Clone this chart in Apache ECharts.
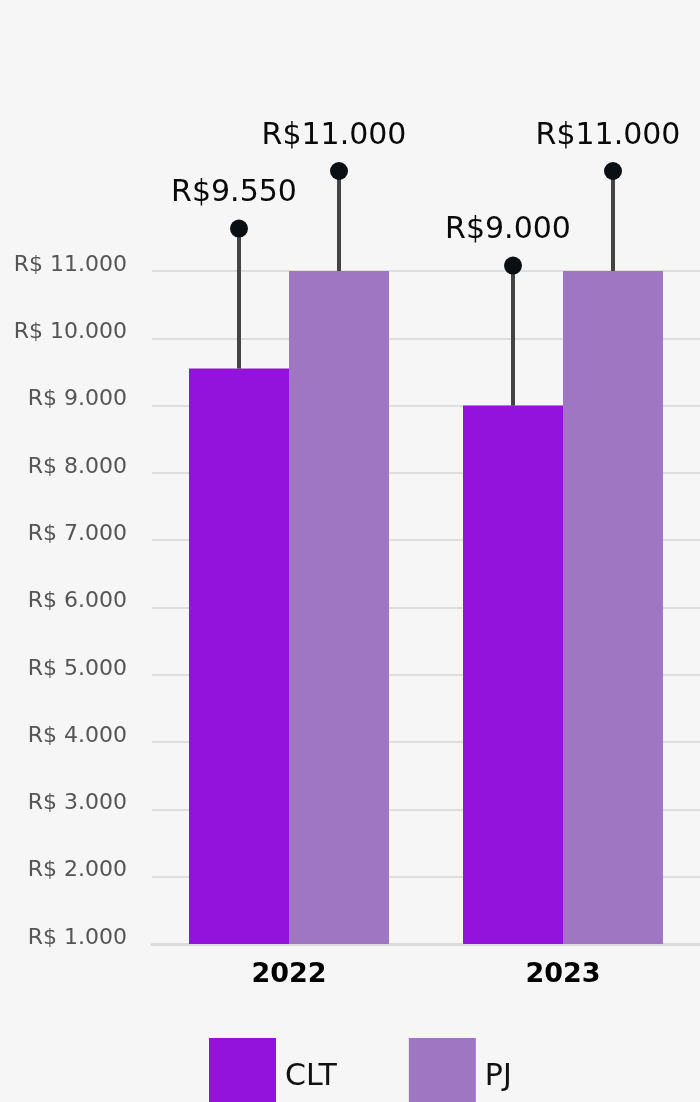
<!DOCTYPE html>
<html>
<head>
<meta charset="utf-8">
<style>
  html, body { margin: 0; padding: 0; background: #f6f6f6; }
  #chart { width: 700px; height: 1102px; }
</style>
<script src="https://cdn.jsdelivr.net/npm/echarts@6/dist/echarts.min.js"></script>
</head>
<body>
<div id="chart"></div>
<script>
// Salary comparison by contract type (CLT vs PJ)
const years = ['2022', '2023'];
const seriesNames = ['CLT', 'PJ'];
const cltValues = [9550, 9000];
const pjValues = [11000, 11000];
const yTicks = { min: 1000, max: 11000, step: 1000 };

const COLORS = { CLT: '#9413dc', PJ: '#9e76c2' };
const FONT = '"DejaVu Sans", sans-serif';
const BAR_W = 100;
// pin stem length above each bar (px)
const PIN_LEN = { CLT: 140, PJ: 100 };

function brl(v, space) {
  const s = v.toLocaleString('pt-BR', { useGrouping: true });
  return 'R$' + (space ? ' ' : '') + s.replace(/,/g, '.');
}

function pinSeries(name, values, side) {
  return {
    type: 'custom',
    name: name + '-pin',
    clip: false,
    z: 5,
    data: values.map((v, i) => [i, v]),
    renderItem(params, api) {
      const p = api.coord([api.value(0), api.value(1)]);
      const x = p[0] + side * BAR_W / 2;
      const yTop = p[1];
      const yDot = yTop - PIN_LEN[name];
      return {
        type: 'group',
        children: [
          { type: 'line', shape: { x1: x, y1: yTop, x2: x, y2: yDot },
            style: { stroke: '#444444', lineWidth: 4 } },
          { type: 'circle', shape: { cx: x, cy: yDot, r: 9 },
            style: { fill: '#0a0f14' } },
          { type: 'text', x: x - 5, y: yDot - 35,
            style: { text: brl(api.value(1), false), fill: '#0a0a0a',
                     font: '30px ' + FONT, align: 'center', verticalAlign: 'middle' } }
        ]
      };
    }
  };
}

const chart = echarts.init(document.getElementById('chart'), null, { renderer: 'canvas' });
chart.setOption({
  backgroundColor: '#f6f6f6',
  animation: false,
  grid: { left: 152, top: 271, width: 552, height: 673 },
  legend: {
    data: seriesNames,
    left: 209, top: 1038, padding: 0,
    itemWidth: 67, itemHeight: 78, itemGap: 72,
    icon: 'rect',
    textStyle: { fontFamily: FONT, fontSize: 30, color: '#111', padding: [0, 0, 0, 4] }
  },
  xAxis: {
    type: 'category',
    data: years,
    axisLine: { show: true, lineStyle: { color: '#dcdcdc', width: 3 } },
    axisTick: { show: false },
    axisLabel: { fontFamily: FONT, fontSize: 27, fontWeight: 'bold', color: '#000', margin: 17 }
  },
  yAxis: {
    type: 'value',
    min: yTicks.min, max: yTicks.max, interval: yTicks.step,
    axisLine: { show: false },
    axisTick: { show: false },
    splitLine: { lineStyle: { color: '#dedede', width: 2 } },
    axisLabel: {
      fontFamily: FONT, fontSize: 22, color: '#555', margin: 25,
      verticalAlign: 'bottom', lineHeight: 12,
      formatter: v => brl(v, true)
    }
  },
  series: [
    { type: 'bar', name: 'CLT', data: cltValues, barWidth: BAR_W, barGap: '0%',
      itemStyle: { color: COLORS.CLT } },
    { type: 'bar', name: 'PJ', data: pjValues, barWidth: BAR_W, barGap: '0%',
      itemStyle: { color: COLORS.PJ } },
    pinSeries('CLT', cltValues, -1),
    pinSeries('PJ', pjValues, 1)
  ]
});
</script>
</body>
</html>
